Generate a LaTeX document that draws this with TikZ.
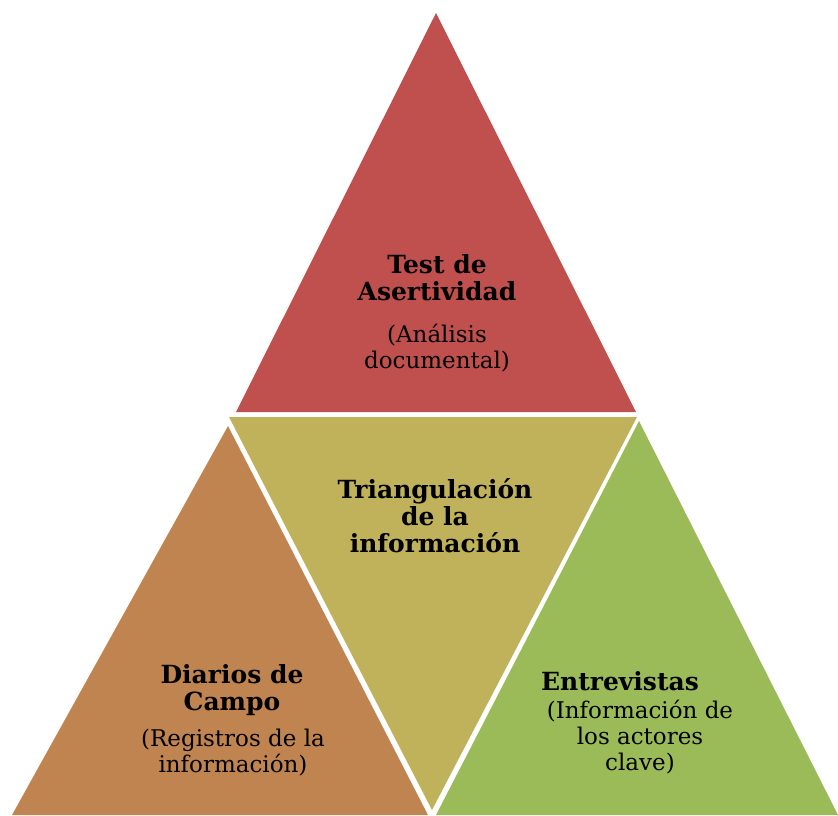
\documentclass[tikz,border=0pt]{standalone}
\usepackage{fontspec}
\setmainfont{DejaVu Serif}
\definecolor{testred}{HTML}{C0504D}
\definecolor{trianolive}{HTML}{BFB25A}
\definecolor{diariobrown}{HTML}{C08450}
\definecolor{entrevgreen}{HTML}{9BBB59}

\begin{document}
\begin{tikzpicture}[x=1pt, y=-1pt,
  title/.style={align=center, inner sep=0pt, font=\fontsize{25}{27}\selectfont\bfseries},
  note/.style={align=center, inner sep=0pt, font=\fontsize{23}{26}\selectfont}]
\useasboundingbox (0,0) rectangle (838,815);

% the four segments of the pyramid
\fill[testred] (436,13) -- (636,412) -- (236,412) -- cycle;
\fill[trianolive] (229,417) -- (637,417) -- (432,810) -- cycle;
\fill[diariobrown] (228,426) -- (428,815) -- (12,815) -- cycle;
\fill[entrevgreen] (639,421) -- (838,815) -- (436,815) -- cycle;

% texts (base = baseline of the last line)
\node[title, anchor=base] (test) at (437,300) {Test de\\Asertividad};
\node[note, anchor=base] (testnote) at (437,368) {(Análisis\\documental)};
\node[title, anchor=base] (trian) at (435,552) {Triangulación\\de la\\información};
\node[title, anchor=base] (diarios) at (232,710) {Diarios de\\Campo};
\node[note, anchor=base] (diariosnote) at (233,772) {(Registros de la\\información)};
\node[title, anchor=base] (entrev) at (620,690) {Entrevistas};
\node[note, anchor=base] (entrevnote) at (640,770) {(Información de\\los actores\\clave)};
\end{tikzpicture}
\end{document}
